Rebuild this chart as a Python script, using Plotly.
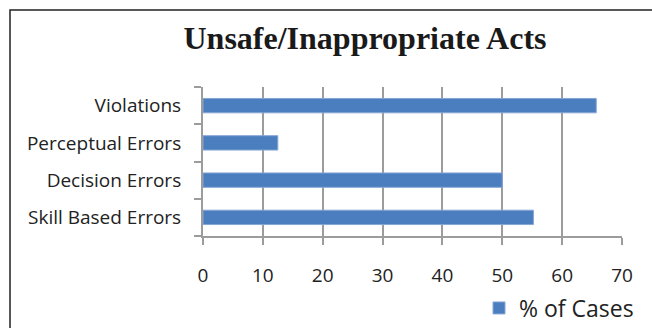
import plotly.graph_objects as go

categories = ["Skill Based Errors", "Decision Errors", "Perceptual Errors", "Violations"]
values = [55.2, 50.0, 12.5, 65.7]
series_name = "% of Cases"
x_ticks = [0, 10, 20, 30, 40, 50, 60, 70]

W, H = 652, 328
L, R, T, B = 203, 30, 87, 92
pw, ph = W - L - R, H - T - B

def px_x(x):
    return (x - L) / pw

def px_y(y):
    return (H - B - y) / ph

fig = go.Figure()
fig.add_trace(go.Bar(
    y=categories, x=values, orientation="h", name=series_name,
    marker=dict(color="#4a7ebf", line=dict(color="#86a6d6", width=1)),
    showlegend=True,
))

axis_col = "#9c9c9c"
fig.update_layout(
    width=W, height=H,
    margin=dict(l=L, r=R, t=T, b=B, autoexpand=False),
    paper_bgcolor="white", plot_bgcolor="white",
    bargap=0.615,
    font=dict(family="Open Sans", size=19, color="#222222"),
    title=dict(text="<b>Unsafe/Inappropriate Acts</b>",
               font=dict(family="Liberation Serif", size=32, color="#1a1a1a"),
               x=365 / W, xanchor="center", xref="container",
               y=1 - 38 / H, yanchor="middle", yref="container"),
    xaxis=dict(range=[0, 70], tickvals=x_ticks, ticktext=[str(v) for v in x_ticks],
               showgrid=True, gridcolor=axis_col, gridwidth=2,
               showline=True, linecolor=axis_col, linewidth=2,
               ticks="outside", ticklen=7, tickwidth=2, tickcolor=axis_col,
               ticklabelstandoff=14, zeroline=False, fixedrange=True),
    yaxis=dict(categoryorder="array", categoryarray=categories,
               showgrid=False, showline=True, linecolor=axis_col, linewidth=2,
               ticks="outside", ticklen=7, tickwidth=2, tickcolor=axis_col,
               tickson="boundaries", ticklabelstandoff=16, fixedrange=True),
    legend=dict(xref="container", yref="container", x=639 / W, xanchor="right",
                y=1 - 308 / H, yanchor="middle", font=dict(size=23),
                bgcolor="rgba(0,0,0,0)", itemwidth=30),
    shapes=[dict(type="rect", xref="paper", yref="paper",
                 x0=px_x(10), x1=px_x(W + 20), y0=px_y(H + 20), y1=px_y(10),
                 line=dict(color="#222222", width=1.5), layer="above")],
)

fig.write_html("out.html")
